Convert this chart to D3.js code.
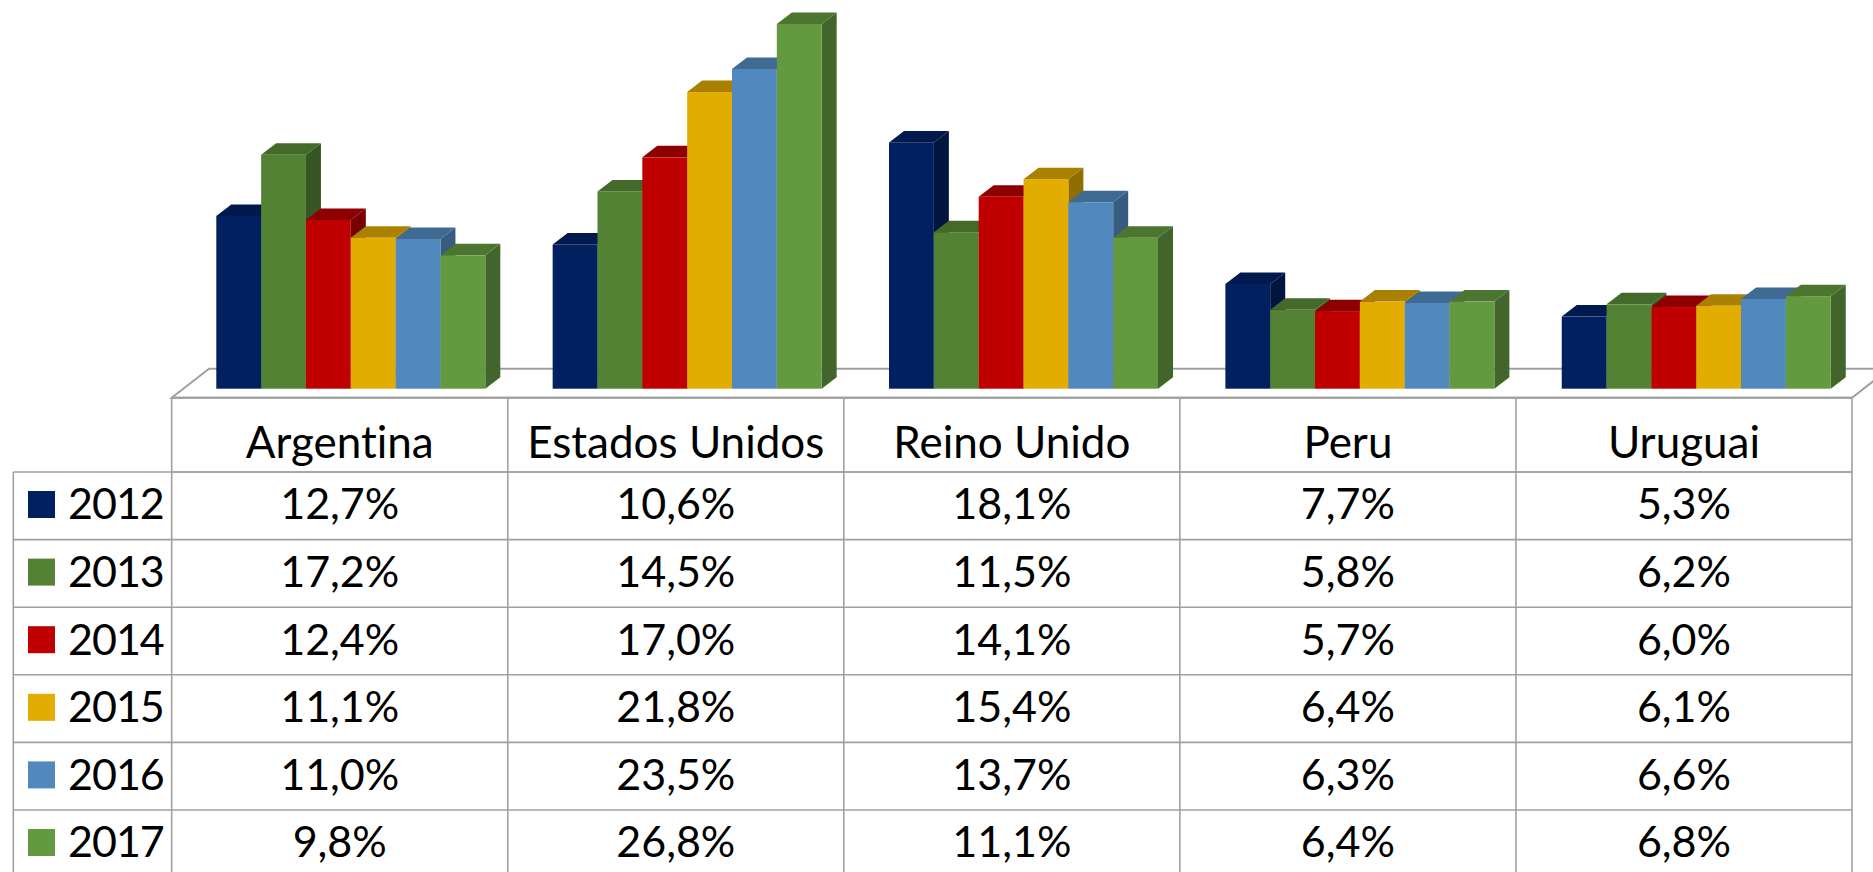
<!DOCTYPE html>
<html>
<head>
<meta charset="utf-8">
<script src="https://cdn.jsdelivr.net/npm/d3@7"></script>
<style>
  html, body { margin: 0; padding: 0; background: #fff; overflow: hidden; }
  text { font-family: Lato, "Noto Sans", sans-serif; fill: #000; font-variant-ligatures: none; }
</style>
</head>
<body>
<div id="chart"></div>
<script>
const categories = ["Argentina", "Estados Unidos", "Reino Unido", "Peru", "Uruguai"];
const years = ["2012", "2013", "2014", "2015", "2016", "2017"];

const values2012 = [12.7, 10.6, 18.1, 7.7, 5.3];
const values2013 = [17.2, 14.5, 11.5, 5.8, 6.2];
const values2014 = [12.4, 17.0, 14.1, 5.7, 6.0];
const values2015 = [11.1, 21.8, 15.4, 6.4, 6.1];
const values2016 = [11.0, 23.5, 13.7, 6.3, 6.6];
const values2017 = [9.8, 26.8, 11.1, 6.4, 6.8];
const seriesValues = [values2012, values2013, values2014, values2015, values2016, values2017];

const frontColors = ["#002060", "#548235", "#c00000", "#e2ac00", "#5189be", "#639a3f"];
const topColors = ["#001a4d", "#436a2a", "#8e0000", "#a98000", "#3e6a93", "#4c752f"];
const sideColors = ["#00153f", "#375623", "#780000", "#8f6d00", "#365d80", "#41652a"];

const width = 1873, height = 872;
const svg = d3.select("#chart").append("svg")
  .attr("width", width)
  .attr("height", height);

// 表格和底板的位置
const tableLeft = 171.7, tableRight = 1852, tableTop = 397.7;
const legendLeft = 13.3, headerBottom = 472, rowH = 67.6;
const floorDx = 37.3, floorDy = 29;
const gridColor = "#a0a0a0";

const x = d3.scaleBand().domain(categories).range([tableLeft, tableRight]);
// 柱子组的间距比表格列略宽一点
const xGroup = d3.scaleBand().domain(categories).range([216.3, 1898.1]);
const xBar = d3.scaleBand().domain(years).range([0, 269]);
const y = d3.scaleLinear().domain([0, 26.8]).range([388.7, 24]);
const rowY = d3.scaleBand().domain(years)
  .range([headerBottom, headerBottom + rowH * years.length]);

const depthX = 15, depthY = 11.5;

// 底板
svg.append("path")
  .attr("d", `M${tableLeft},${tableTop}L${tableLeft + floorDx},${tableTop - floorDy}L${tableRight + floorDx},${tableTop - floorDy}L${tableRight},${tableTop}Z`)
  .attr("fill", "#fff")
  .attr("stroke", gridColor)
  .attr("stroke-width", 2);

// 3D 柱子，从左到右画，后面的盖住前面的侧面
years.forEach((year, s) => {
  const g = svg.append("g").attr("class", "series");
  categories.forEach((cat, c) => {
    const x0 = xGroup(cat) + xBar(year);
    const w = xBar.bandwidth();
    const y0 = y(seriesValues[s][c]);
    const base = y(0);
    g.append("path")
      .attr("d", `M${x0 + w},${y0}L${x0 + w + depthX},${y0 - depthY}L${x0 + w + depthX},${base - depthY}L${x0 + w},${base}Z`)
      .attr("fill", sideColors[s]);
    g.append("path")
      .attr("d", `M${x0},${y0}L${x0 + depthX},${y0 - depthY}L${x0 + w + depthX},${y0 - depthY}L${x0 + w},${y0}Z`)
      .attr("fill", topColors[s]);
    g.append("rect")
      .attr("x", x0)
      .attr("y", y0)
      .attr("width", w)
      .attr("height", base - y0)
      .attr("fill", frontColors[s]);
  });
});

// 表格线
const grid = svg.append("g")
  .attr("stroke", gridColor)
  .attr("stroke-width", 1.6);
const tableBottom = rowY.range()[1];
grid.append("line")
  .attr("x1", tableLeft).attr("x2", tableRight)
  .attr("y1", tableTop).attr("y2", tableTop)
  .attr("stroke-width", 2);
grid.append("line")
  .attr("x1", tableLeft).attr("x2", tableRight)
  .attr("y1", headerBottom).attr("y2", headerBottom);
grid.selectAll(".row")
  .data(years)
  .enter().append("line")
  .attr("x1", legendLeft).attr("x2", tableRight)
  .attr("y1", d => rowY(d)).attr("y2", d => rowY(d));
grid.append("line")
  .attr("x1", legendLeft).attr("x2", legendLeft)
  .attr("y1", headerBottom).attr("y2", tableBottom);
grid.selectAll(".col")
  .data([...categories.map(d => x(d)), tableRight])
  .enter().append("line")
  .attr("x1", d => d).attr("x2", d => d)
  .attr("y1", tableTop).attr("y2", tableBottom);

// 表头
svg.selectAll(".header")
  .data(categories)
  .enter().append("text")
  .attr("x", d => x(d) + x.bandwidth() / 2)
  .attr("y", 458.3)
  .attr("text-anchor", "middle")
  .style("font-size", "44px")
  .text(d => d);

// 图例
svg.selectAll(".swatch")
  .data(years)
  .enter().append("rect")
  .attr("x", 28)
  .attr("y", d => rowY(d) + 19)
  .attr("width", 27)
  .attr("height", 27)
  .attr("fill", (d, i) => frontColors[i]);
svg.selectAll(".legend")
  .data(years)
  .enter().append("text")
  .attr("x", 68)
  .attr("y", d => rowY(d) + 47.4)
  .style("font-size", "43px")
  .style("letter-spacing", "-1px")
  .text(d => d);

// 数值
years.forEach((year, s) => {
  svg.selectAll(".v" + year)
    .data(seriesValues[s])
    .enter().append("text")
    .attr("x", (d, c) => x(categories[c]) + x.bandwidth() / 2)
    .attr("y", rowY(year) + 47.4)
    .attr("text-anchor", "middle")
    .style("font-size", "43px")
    .text(d => d.toFixed(1).replace(".", ",") + "%");
});
</script>
</body>
</html>
